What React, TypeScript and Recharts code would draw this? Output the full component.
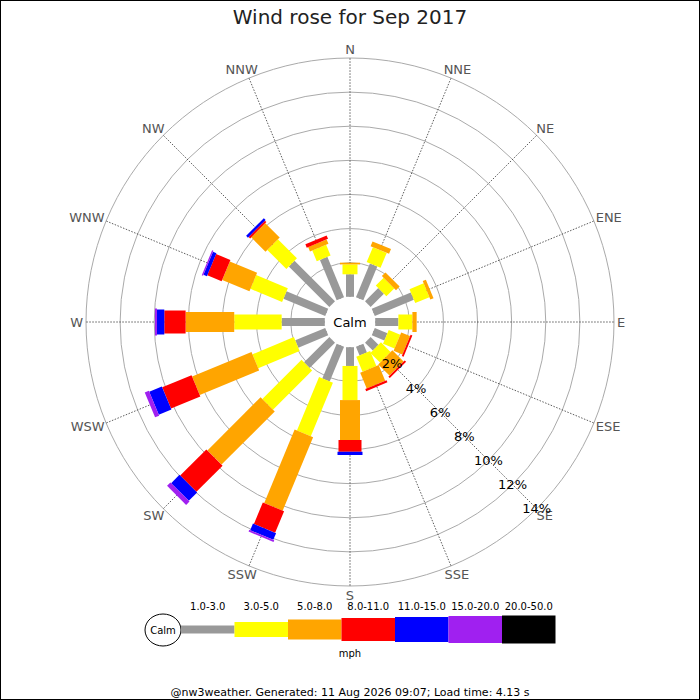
import React from "react";
import {
  RadialBarChart,
  RadialBar,
  PolarAngleAxis,
  PolarRadiusAxis,
  PolarGrid,
} from "recharts";

const directions = [
  "N", "NNE", "NE", "ENE", "E", "ESE", "SE", "SSE",
  "S", "SSW", "SW", "WSW", "W", "WNW", "NW", "NNW",
];

// % of time per direction, per speed band (mph)
const speed1to3 = [1.32, 2.14, 1.1, 2.48, 1.36, 0.8, 0.65, 0.55, 1.1, 2.2, 2.1, 1.9, 2.53, 2.65, 3.36, 2.56];
const speed3to5 = [0.58, 0.95, 0.65, 0.9, 0.82, 0.73, 0.8, 0.95, 2.0, 3.39, 3.25, 2.63, 2.78, 2.01, 1.58, 0.68];
const speed5to8 = [0.1, 0.3, 0.3, 0.2, 0.25, 0.56, 0.93, 1.0, 2.34, 4.66, 4.41, 3.77, 2.85, 1.73, 1.19, 0.28];
const speed8to11 = [0, 0, 0, 0, 0, 0.11, 0.12, 0.13, 0.69, 1.37, 2.17, 1.86, 1.25, 0.91, 0.12, 0.21];
const speed11to15 = [0, 0, 0, 0, 0, 0, 0, 0, 0.19, 0.42, 0.69, 0.8, 0.43, 0.22, 0.15, 0];
const speed15to20 = [0, 0, 0, 0, 0, 0, 0, 0, 0, 0.11, 0.28, 0.26, 0.12, 0.08, 0, 0];
const speed20to50 = [0, 0, 0, 0, 0, 0, 0, 0, 0, 0, 0, 0, 0, 0, 0, 0];

const bandLabels = ["1.0-3.0", "3.0-5.0", "5.0-8.0", "8.0-11.0", "11.0-15.0", "15.0-20.0", "20.0-50.0"];
const bandColors = ["#999999", "#ffff00", "#ffa500", "#ff0000", "#0000ff", "#a020f0", "#000000"];
const bandWidths = [8, 15, 20, 23, 25, 27, 28];
const percentTicks = [2, 4, 6, 8, 10, 12, 14];

const bandSeries = [speed1to3, speed3to5, speed5to8, speed8to11, speed11to15, speed15to20, speed20to50];
const bandKeys = bandLabels.map((_, k) => `band${k}`);

const chartData = directions.map((dir, i) => {
  const row: Record<string, string | number> = { dir };
  bandSeries.forEach((s, k) => {
    row[bandKeys[k]] = s[i];
  });
  return row;
});

const FONT = "'DejaVu Sans', sans-serif";
const RAD = Math.PI / 180;
const CX = 350;
const CY = 322;
const OUTER = 264;

// rough DejaVu Sans glyph widths (em) for the compass letters
const glyphEm: Record<string, number> = { N: 0.748, E: 0.632, S: 0.635, W: 0.989 };

// draws a straight bar segment (not a wedge) along the direction's tick angle.
// the sector spans one full band starting at the tick, so its smaller edge is the tick
function segmentShape(width: number, fill: string) {
  return (props: any) => {
    const { cx, cy, innerRadius, outerRadius, startAngle, endAngle } = props;
    if (!(outerRadius - innerRadius > 0.01)) return <g />;
    const ang = Math.min(startAngle, endAngle) * RAD;
    const dx = Math.cos(-ang);
    const dy = Math.sin(-ang);
    const nx = -dy * (width / 2);
    const ny = dx * (width / 2);
    const x1 = cx + dx * innerRadius;
    const y1 = cy + dy * innerRadius;
    const x2 = cx + dx * outerRadius;
    const y2 = cy + dy * outerRadius;
    const pts = [
      [x1 + nx, y1 + ny],
      [x2 + nx, y2 + ny],
      [x2 - nx, y2 - ny],
      [x1 - nx, y1 - ny],
    ]
      .map((p) => p.join(","))
      .join(" ");
    return <polygon points={pts} fill={fill} stroke="none" />;
  };
}

// compass label pushed out so its box sits just outside the outer ring
const DirTick = (props: any) => {
  const { x, y, payload } = props;
  const label = String(payload.value);
  const d = Math.hypot(x - CX, y - CY) || 1;
  const ux = (x - CX) / d;
  const uy = (y - CY) / d;
  const px = CX + ux * OUTER;
  const py = CY + uy * OUTER;
  const halfW = (label.split("").reduce((s, c) => s + (glyphEm[c] || 0.7), 0) * 13) / 2;
  const tx = px + ux * (3 + halfW);
  const ty = py + uy * 9;
  return (
    <text x={tx} y={ty} textAnchor="middle" dominantBaseline="central" fontSize={13} fill="#555" fontFamily={FONT}>
      {label}
    </text>
  );
};

const PercentTick = (props: any) => {
  const { x, y, payload } = props;
  return (
    <text x={x} y={y} textAnchor="middle" dominantBaseline="central" fontSize={13} fill="#000" fontFamily={FONT}>
      {`${payload.value}%`}
    </text>
  );
};

function SpeedLegend() {
  const x0 = 181;
  const segW = 53.5;
  const midY = 629.5;
  return (
    <g fontFamily={FONT}>
      <ellipse cx={163} cy={630} rx={18} ry={16} fill="#fff" stroke="#000" />
      <text x={163} y={630} textAnchor="middle" dominantBaseline="central" fontSize={10}>
        Calm
      </text>
      {bandLabels.map((label, k) => (
        <g key={label}>
          <rect
            x={x0 + k * segW}
            y={midY - bandWidths[k] / 2}
            width={segW}
            height={bandWidths[k]}
            fill={bandColors[k]}
          />
          <text x={x0 + k * segW + segW / 2} y={610} textAnchor="middle" fontSize={10} fill="#000">
            {label}
          </text>
        </g>
      ))}
      <text x={350} y={657} textAnchor="middle" fontSize={10} fill="#000">
        mph
      </text>
    </g>
  );
}

export default function App() {
  return (
    <div
      style={{
        position: "fixed",
        top: 0,
        left: 0,
        width: 700,
        height: 700,
        background: "#fff",
        boxShadow: "inset 0 0 0 1px #000",
      }}
    >
      <RadialBarChart
        width={700}
        height={700}
        data={chartData}
        layout="centric"
        cx={CX}
        cy={CY}
        innerRadius={25.2}
        outerRadius={OUTER}
        startAngle={90}
        endAngle={-270}
        barCategoryGap={0}
        margin={{ top: 0, right: 0, bottom: 0, left: 0 }}
      >
        <PolarGrid gridType="circle" radialLines={false} stroke="#aaaaaa" strokeWidth={1} />
        <PolarGrid gridType="circle" polarRadius={[]} stroke="#333" strokeWidth={0.8} strokeDasharray="1.5 1.5" />
        <PolarAngleAxis
          type="category"
          dataKey="dir"
          tick={<DirTick />}
          tickLine={false}
          axisLine={false}
          tickSize={9}
        />
        <PolarRadiusAxis
          type="number"
          domain={[0, 14]}
          ticks={percentTicks}
          angle={-45}
          axisLine={false}
          tickLine={false}
          tick={<PercentTick />}
        />
        {bandKeys.map((key, k) => (
          <RadialBar
            key={key}
            dataKey={key}
            stackId="wind"
            isAnimationActive={false}
            fill={bandColors[k]}
            shape={segmentShape(bandWidths[k], bandColors[k])}
          />
        ))}
        <circle cx={CX} cy={CY} r={25} fill="#fff" />
        <text x={CX} y={CY} textAnchor="middle" dominantBaseline="central" fontSize={13} fontFamily={FONT}>
          Calm
        </text>
        <text x={350} y={24} textAnchor="middle" fontSize={20} fill="#222" fontFamily={FONT}>
          Wind rose for Sep 2017
        </text>
        <SpeedLegend />
        <text x={350} y={696} textAnchor="middle" fontSize={11} fill="#000" fontFamily={FONT}>
          @nw3weather. Generated: 11 Aug 2026 09:07; Load time: 4.13 s
        </text>
      </RadialBarChart>
    </div>
  );
}
